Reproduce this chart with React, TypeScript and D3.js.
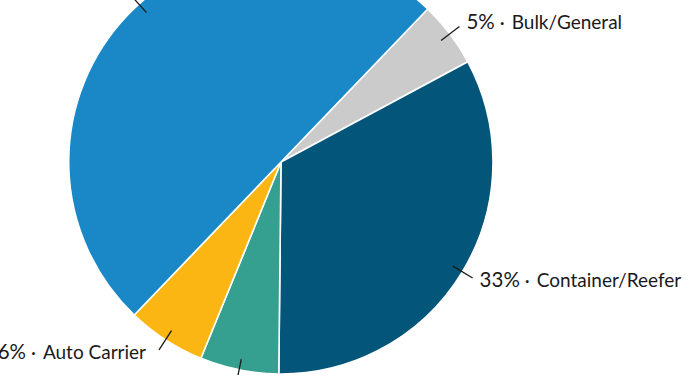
import React from "react";
import * as d3 from "d3";

const categories = ["Bulk/General", "Container/Reefer", "Other", "Auto Carrier", "Tanker"];
const values = [5, 33, 6, 6, 50];
const colors = ["#cbcbcb", "#03567a", "#35a08f", "#fbb614", "#1a88c6"];
const showText = [true, true, false, true, false];
const leaderNudge = [0, 0, 0, 0, 4.2];
const labelDy = [2.5, 9, 0, 9, 0];

const W = 700;
const H = 375;
const cx = 281;
const cy = 162;
const R = 212;
const startDeg = 43.8;

export default function App() {
  const start = (startDeg * Math.PI) / 180;
  const pie = d3
    .pie<number>()
    .sort(null)
    .value((d) => d)
    .startAngle(start)
    .endAngle(start + 2 * Math.PI);
  const arcs = pie(values);
  const arc = d3.arc<d3.PieArcDatum<number>>().innerRadius(0).outerRadius(R);

  return (
    <svg
      width={W}
      height={H}
      style={{ position: "absolute", left: 0, top: 0, background: "#fff" }}
    >
      <g transform={`translate(${cx},${cy})`}>
        {arcs.map((a, i) => (
          <path key={i} d={arc(a) || ""} fill={colors[i]} stroke="#ffffff" strokeWidth={1.6} strokeLinejoin="round" />
        ))}
        {arcs.map((a, i) => {
          const mid = (a.startAngle + a.endAngle) / 2 + (leaderNudge[i] * Math.PI) / 180;
          const s = Math.sin(mid);
          const c = -Math.cos(mid);
          const r1 = R - 11;
          const r2 = R + 12;
          const x2 = r2 * s;
          const y2 = r2 * c;
          const right = s > 0;
          return (
            <g key={"l" + i}>
              <line x1={r1 * s} y1={r1 * c} x2={x2} y2={y2} stroke="#1a1a1a" strokeWidth={1.3} />
              {showText[i] && (
                <text
                  x={right ? x2 + 7 : x2 - 13}
                  y={y2 + labelDy[i]}
                  textAnchor={right ? "start" : "end"}
                  fontFamily="Lato, 'Open Sans', sans-serif"
                  fontSize={19}
                  fill="#1a1a1a"
                >
                  <tspan fontSize={20.5}>{values[i]}%</tspan>
                  <tspan dx={5}>·</tspan>
                  <tspan dx={7}>{categories[i]}</tspan>
                </text>
              )}
            </g>
          );
        })}
      </g>
    </svg>
  );
}
